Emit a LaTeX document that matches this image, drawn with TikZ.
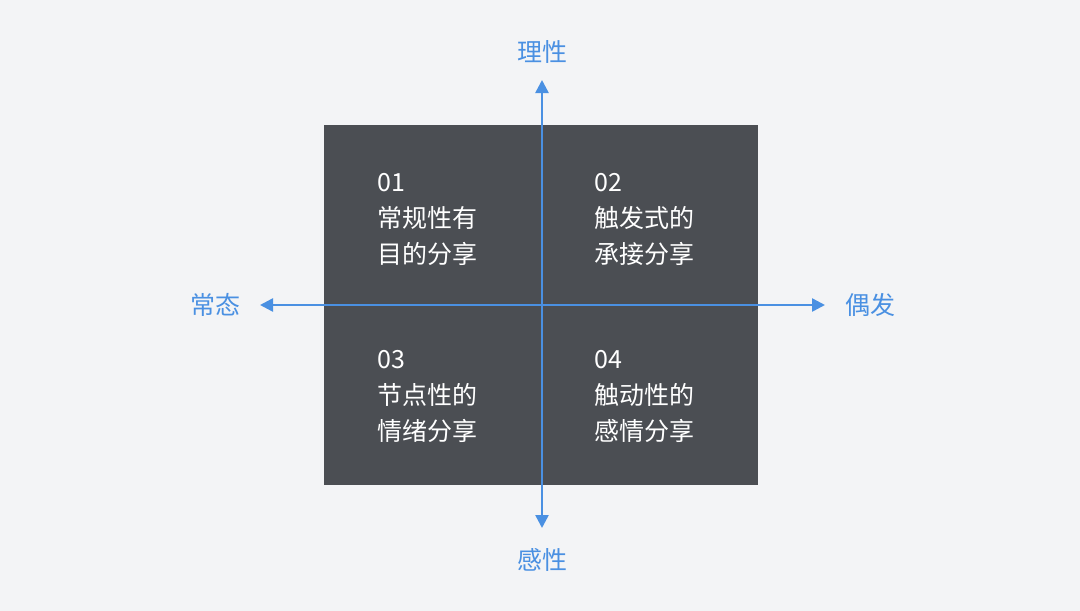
\documentclass[tikz,border=0pt]{standalone}
\usepackage{fontspec}
\setmainfont{Noto Sans CJK SC}
\usetikzlibrary{arrows.meta}
\usetikzlibrary{positioning}
\definecolor{axisblue}{HTML}{4A90E2}
\definecolor{panelgray}{HTML}{4B4E53}
\definecolor{bggray}{HTML}{F3F4F6}
\tikzset{
	>={Triangle[length=13pt,width=13pt]},
	axis/.style={draw=axisblue, line width=2.5pt, <->},
	panel/.style={
		rectangle,
		fill=panelgray,
		minimum width=434pt,
		minimum height=360pt,
		inner sep=0pt},
	quadtext/.style={
		anchor=base west,
		align=left,
		inner sep=0pt,
		text=white,
		font=\fontsize{25}{36}\selectfont},
	axislabel/.style={
		inner sep=0pt,
		text=axisblue,
		font=\fontsize{25}{30}\selectfont},
}

\begin{document}
\begin{tikzpicture}[x=1pt,y=-1pt]
		\fill[bggray] (0,0) rectangle (1080,611);
		\useasboundingbox (0,0) rectangle (1080,611);
		\node[panel] (panel) at (541,305) {};
		% axis ends
		\coordinate (north) at (542,80);
		\coordinate (south) at (542,528);
		\coordinate (west)  at (260,305);
		\coordinate (east)  at (825,305);
		\draw[axis] (south) -- (north);
		\draw[axis] (west) -- (east);
		% axis labels
		\node[axislabel] (rational)   at (542,52)  {理性};
		\node[axislabel] (emotional)  at (542,560) {感性};
		\node[axislabel] (routine)    at (215,305) {常态};
		\node[axislabel] (occasional) at (870,305) {偶发};
		% quadrants (anchored at the last line)
		\node[quadtext] (q1) at (377,263) {01\\常规性有\\目的分享};
		\node[quadtext] (q2) at (594,263) {02\\触发式的\\承接分享};
		\node[quadtext] (q3) at (377,440) {03\\节点性的\\情绪分享};
		\node[quadtext] (q4) at (594,440) {04\\触动性的\\感情分享};
\end{tikzpicture}
\end{document}
